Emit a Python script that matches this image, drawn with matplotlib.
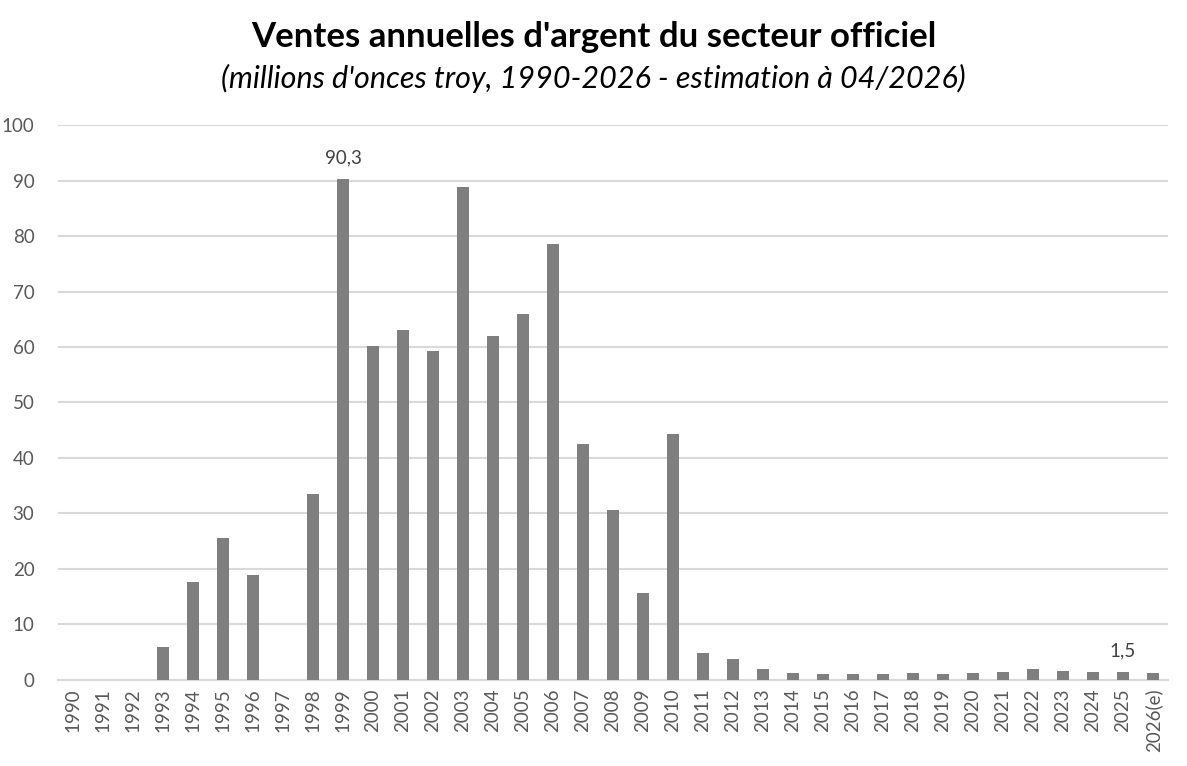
import matplotlib
matplotlib.use("Agg")
import matplotlib.pyplot as plt

years = [str(y) for y in range(1990, 2026)] + ["2026(e)"]
values = [0, 0, 0, 6.0, 17.7, 25.5, 19.0, 0, 33.5, 90.3,
          60.2, 63.0, 59.3, 88.8, 62.0, 65.9, 78.5, 42.5, 30.7, 15.7,
          44.3, 4.9, 3.7, 1.9, 1.3, 1.15, 1.15, 1.15, 1.3, 1.15,
          1.3, 1.5, 1.9, 1.7, 1.5, 1.5, 1.2]
labelled = {"1999": "90,3", "2025": "1,5"}
y_ticks = list(range(0, 101, 10))

title = "Ventes annuelles d'argent du secteur officiel"
subtitle = "(millions d'onces troy, 1990-2026 - estimation à 04/2026)"

plt.rcParams['font.family'] = ['Lato', 'DejaVu Sans']

fig = plt.figure(figsize=(11.87, 7.66), dpi=100)
ax = fig.add_axes([0.0489, 0.1123, 0.9351, 0.7245])

x = list(range(len(years)))
ax.bar(x, values, width=0.37, color="#7f7f7f", zorder=3)

ax.set_xlim(-0.5, len(years) - 0.5)
ax.set_ylim(0, 100)
ax.set_yticks(y_ticks)
ax.set_yticklabels([str(t) for t in y_ticks], fontsize=13.5, color="#595959")
ax.set_xticks(x)
ax.set_xticklabels(years, rotation=90, fontsize=13.5, color="#595959")
ax.tick_params(axis="both", length=0)
ax.tick_params(axis="y", pad=17)
ax.tick_params(axis="x", pad=6)
ax.yaxis.grid(True, color="#d9d9d9", linewidth=1.5, zorder=0)
for s in ["top", "right", "left"]:
    ax.spines[s].set_visible(False)
ax.spines["bottom"].set_color("#d9d9d9")
ax.spines["bottom"].set_linewidth(1.5)

for i, (yr, v) in enumerate(zip(years, values)):
    if yr in labelled:
        ax.annotate(labelled[yr], (i, v), xytext=(0, 9), textcoords="offset points",
                    ha="center", va="bottom", fontsize=13.5, color="#404040")

fig.text(0.5, 0.952, title, ha="center", va="center", fontsize=25, fontweight="bold", color="black")
fig.text(0.5, 0.898, subtitle, ha="center", va="center", fontsize=22, style="italic", color="black")

fig.savefig("out.png", dpi=100, facecolor="white")
